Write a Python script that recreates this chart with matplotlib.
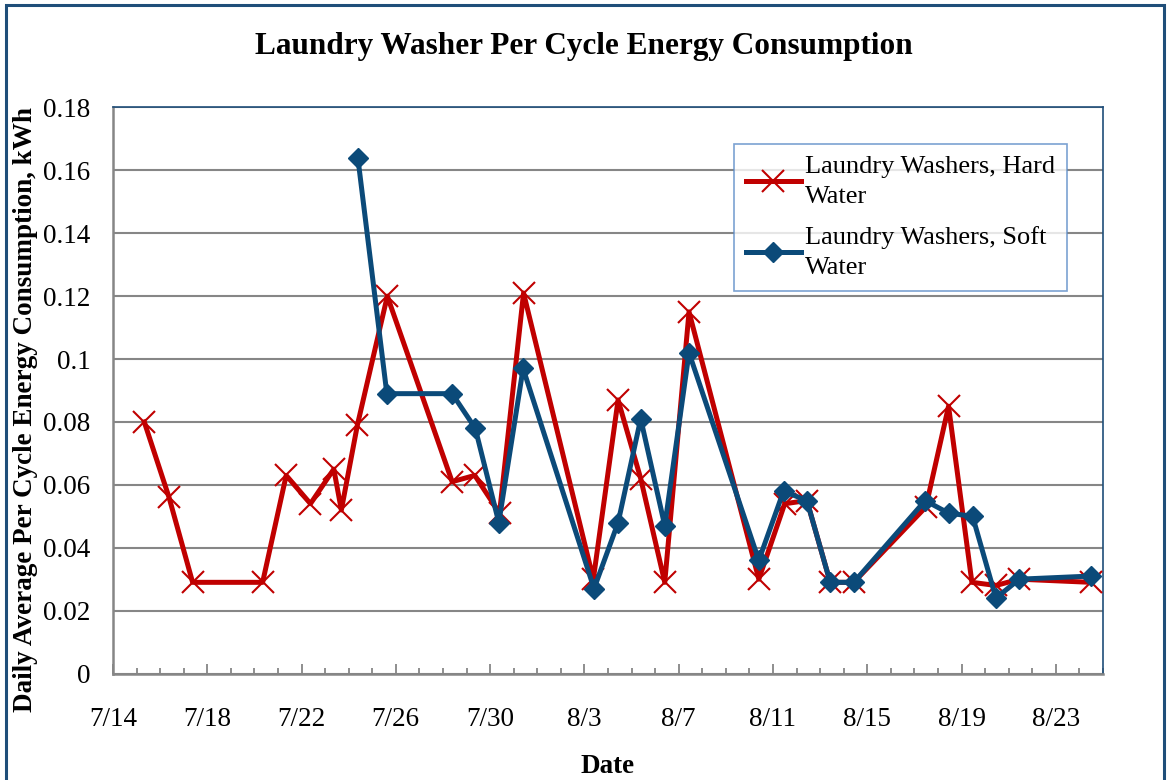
import matplotlib
matplotlib.use("Agg")
import matplotlib.pyplot as plt
import matplotlib.ticker as ticker
from matplotlib.patches import Rectangle

# days since 7/14
hard_day = [1.33, 2.38, 3.38, 6.35, 7.35, 8.38, 9.37, 9.69, 10.37, 11.64,
            14.39, 15.35, 16.40, 17.42, 20.38, 21.43, 22.39, 23.41, 24.44,
            27.40, 28.50, 29.44, 30.43, 31.43, 34.49, 35.45, 36.44, 37.46,
            38.45, 41.50]
hard_kwh = [0.080, 0.056, 0.029, 0.029, 0.063, 0.054, 0.065, 0.052, 0.079, 0.120,
            0.061, 0.063, 0.051, 0.121, 0.030, 0.087, 0.062, 0.029, 0.115,
            0.030, 0.054, 0.055, 0.029, 0.029, 0.053, 0.085, 0.029, 0.028,
            0.030, 0.029]

soft_day = [10.39, 11.62, 14.39, 15.37, 16.37, 17.40, 20.41, 21.43, 22.39,
            23.41, 24.44, 27.40, 28.45, 29.44, 30.43, 31.43, 34.46, 35.45,
            36.47, 37.46, 38.45, 41.50]
soft_kwh = [0.164, 0.089, 0.089, 0.078, 0.048, 0.097, 0.027, 0.048, 0.081,
            0.047, 0.102, 0.036, 0.058, 0.055, 0.029, 0.029, 0.055, 0.051,
            0.050, 0.024, 0.030, 0.031]

tick_days = [0, 4, 8, 12, 16, 20, 24, 28, 32, 36, 40]
tick_labels = ['7/14', '7/18', '7/22', '7/26', '7/30', '8/3', '8/7', '8/11',
               '8/15', '8/19', '8/23']

plt.rcParams['font.family'] = ['Liberation Serif', 'DejaVu Serif']

fig = plt.figure(figsize=(11.68, 7.8), dpi=100)
ax = fig.add_axes([0.0967, 0.1365, 0.8476, 0.7257])

red = '#C00000'
blue = '#0B4A79'
grid_c = '#868686'

ax.plot(hard_day, hard_kwh, color=red, lw=3.6, marker='x', ms=16, mew=1.5,
        label='Laundry Washers, Hard\nWater', zorder=3)
ax.plot(soft_day, soft_kwh, color=blue, lw=3.6, marker='D', ms=10,
        label='Laundry Washers, Soft\nWater', zorder=4)

ax.set_xlim(0, 42)
ax.set_ylim(0, 0.18)
ax.set_xticks(tick_days)
ax.set_xticklabels(tick_labels)
ax.xaxis.set_minor_locator(ticker.MultipleLocator(1))
ax.yaxis.set_major_locator(ticker.MultipleLocator(0.02))
ax.yaxis.set_major_formatter(ticker.FormatStrFormatter('%g'))

ax.grid(axis='y', color=grid_c, lw=1.5, zorder=0)
ax.set_axisbelow(True)
ax.tick_params(axis='x', which='major', direction='in', length=7, width=1.3,
               color=grid_c, labelsize=19.5, pad=24)
ax.tick_params(axis='x', which='minor', direction='in', length=4, width=1.3,
               color=grid_c)
ax.tick_params(axis='y', length=0, labelsize=19.5, pad=16)

for s in ['left', 'bottom']:
    ax.spines[s].set_color(grid_c)
    ax.spines[s].set_linewidth(1.8)
for s in ['top', 'right']:
    ax.spines[s].set_color('#1F4E79')
    ax.spines[s].set_linewidth(1.2)

ax.set_xlabel('Date', fontsize=19.5, fontweight='bold', labelpad=16)
ax.set_ylabel('Daily Average Per Cycle Energy Consumption, kWh', fontsize=19.5,
              fontweight='bold')
ax.yaxis.set_label_coords(-0.076, 0.467)
fig.text(0.5, 0.94, 'Laundry Washer Per Cycle Energy Consumption',
         ha='center', va='center', fontsize=22.5, fontweight='bold')

leg = ax.legend(loc='upper left', bbox_to_anchor=(0.627, 0.935), fontsize=19,
                frameon=True, fancybox=False, handlelength=2.1,
                handletextpad=0.15, borderpad=0.45, labelspacing=0.7,
                borderaxespad=0)
leg.get_frame().set_edgecolor('#5B8BC7')
leg.get_frame().set_linewidth(1.2)
for t in leg.get_texts():
    t.set_linespacing(1.45)

# chart area border
fig.patches.append(Rectangle((6 / 1168, -0.05), 1158 / 1168, 1.05 - 5 / 780,
                             transform=fig.transFigure, fill=False,
                             edgecolor='#1F4E79', lw=2.2))

fig.savefig('out.png', dpi=100)
